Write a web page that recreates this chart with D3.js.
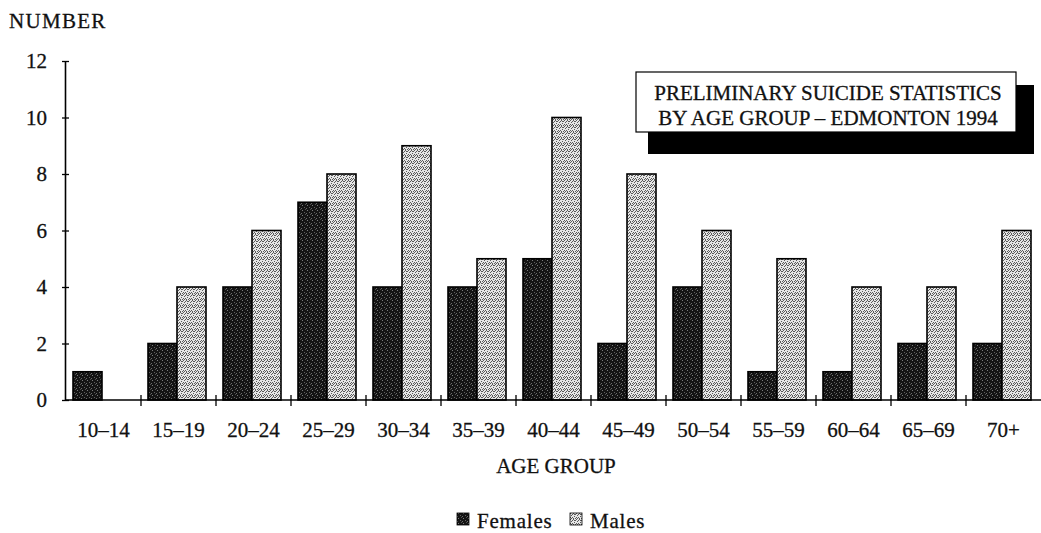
<!DOCTYPE html>
<html>
<head>
<meta charset="utf-8">
<script src="https://cdn.jsdelivr.net/npm/d3@7"></script>
<style>
  html, body { margin: 0; padding: 0; background: #fff; }
  svg { display: block; }
  text { font-family: "Liberation Serif", "Times New Roman", serif; fill: #111; stroke: #111; stroke-width: 0.3px; }
</style>
</head>
<body>
<svg id="chart" width="1041" height="533"></svg>
<script>
// ---- data ----
const categories = ["10–14","15–19","20–24","25–29","30–34","35–39","40–44","45–49","50–54","55–59","60–64","65–69","70+"];
const females = [1, 2, 4, 7, 4, 4, 5, 2, 4, 1, 1, 2, 2];
const males   = [0, 4, 6, 8, 9, 5, 10, 8, 6, 5, 4, 4, 6];
const seriesNames = ["Females", "Males"];
const yTicks = [0, 2, 4, 6, 8, 10, 12];
const titleLines = ["PRELIMINARY SUICIDE STATISTICS", "BY AGE GROUP – EDMONTON 1994"];
const yTitle = "NUMBER";
const xTitle = "AGE GROUP";

// ---- setup ----
const svg = d3.select("#chart");
const defs = svg.append("defs");

// stipple patterns imitating the halftone fills
const pf = defs.append("pattern").attr("id", "patF").attr("patternUnits", "userSpaceOnUse")
  .attr("width", 5).attr("height", 5);
pf.append("rect").attr("width", 5).attr("height", 5).attr("fill", "#141414");
[[1,0,"#7a7a7a"],[3,2,"#5e5e5e"],[0,3,"#6c6c6c"],[4,4,"#505050"]].forEach(([px,py,c]) =>
  pf.append("rect").attr("x", px).attr("y", py).attr("width", 1).attr("height", 1).attr("fill", c));

const pm = defs.append("pattern").attr("id", "patM").attr("patternUnits", "userSpaceOnUse")
  .attr("width", 6).attr("height", 6);
pm.append("rect").attr("width", 6).attr("height", 6).attr("fill", "#e6e6e6");
[[0,0],[3,0],[2,1],[5,1],[1,2],[4,3],[0,4],[2,4],[3,5],[5,5],[1,5],[4,1]].forEach(([px,py]) =>
  pm.append("rect").attr("x", px).attr("y", py).attr("width", 1).attr("height", 1).attr("fill", "#5a5a5a"));

const fills = { Females: "url(#patF)", Males: "url(#patM)" };

const x0 = d3.scaleBand().domain(categories).range([66, 1041]).padding(0);
const x1 = d3.scaleBand().domain(seriesNames).range([7, 65]).padding(0);
const y = d3.scaleLinear().domain([0, 12]).range([400, 61]);

// ---- bars ----
const rows = categories.map((c, i) => ({ cat: c, Females: females[i], Males: males[i] }));
const groups = svg.append("g").selectAll("g").data(rows).join("g")
  .attr("transform", d => `translate(${x0(d.cat)},0)`);
groups.selectAll("rect")
  .data(d => seriesNames.map(s => ({ s, v: d[s] })).filter(e => e.v > 0))
  .join("rect")
  .attr("x", e => x1(e.s))
  .attr("y", e => y(e.v))
  .attr("width", x1.bandwidth())
  .attr("height", e => y(0) - y(e.v))
  .attr("fill", e => fills[e.s])
  .attr("stroke", "#000")
  .attr("stroke-width", 1.6);

const fontCss = '"Liberation Serif", serif';

// ---- y axis ----
const yAxis = svg.append("g").attr("transform", "translate(65,0)")
  .call(d3.axisLeft(y).tickValues(yTicks).tickSize(3).tickPadding(15).tickSizeOuter(0));
yAxis.select(".domain").attr("stroke", "#000").attr("stroke-width", 1.6);
yAxis.selectAll(".tick line").attr("stroke", "#000").attr("stroke-width", 1.3);
yAxis.selectAll(".tick").append("line").attr("x1", 0).attr("x2", 4).attr("stroke", "#000").attr("stroke-width", 1.3);
yAxis.selectAll(".tick text").style("font-family", fontCss).style("font-size", "21px").attr("fill", "#111");

// ---- x axis ----
const xAxis = svg.append("g").attr("transform", "translate(0,400)")
  .call(d3.axisBottom(x0).tickSize(0).tickPadding(22).tickSizeOuter(0));
xAxis.select(".domain").attr("d", `M65,0H1041`).attr("stroke", "#000").attr("stroke-width", 1.6);
xAxis.selectAll(".tick text").style("font-family", fontCss).style("font-size", "21px").attr("fill", "#111");
svg.append("g").attr("transform", "translate(0,400)")
  .selectAll("line").data(categories.slice(1)).join("line")
  .attr("x1", d => x0(d)).attr("x2", d => x0(d))
  .attr("y1", -5).attr("y2", 6)
  .attr("stroke", "#000").attr("stroke-width", 1.3);

// ---- axis titles ----
svg.append("text").attr("x", 9).attr("y", 28).style("font-size", "21px").style("letter-spacing", "1.3px").text(yTitle);
svg.append("text").attr("x", 556).attr("y", 473).attr("text-anchor", "middle").style("font-size", "21px").text(xTitle);

// ---- title box ----
svg.append("rect").attr("x", 648).attr("y", 85).attr("width", 386).attr("height", 69).attr("fill", "#000");
svg.append("rect").attr("x", 636).attr("y", 72).attr("width", 380).attr("height", 60)
  .attr("fill", "#fff").attr("stroke", "#000").attr("stroke-width", 1.2);
svg.append("g").selectAll("text").data(titleLines).join("text")
  .attr("x", 828).attr("y", (d, i) => 100 + i * 25)
  .attr("text-anchor", "middle").style("font-size", "21px").text(d => d);

// ---- legend ----
const legendX = { Females: 457, Males: 570 };
const lg = svg.append("g").selectAll("g").data(seriesNames).join("g")
  .attr("transform", d => `translate(${legendX[d]},513)`);
lg.append("rect").attr("width", 12).attr("height", 12).attr("fill", d => fills[d]).attr("stroke", "#000").attr("stroke-width", 0.8);
lg.append("text").attr("x", 20).attr("y", 15).style("font-size", "21px").style("letter-spacing", "0.8px").text(d => d);
</script>
</body>
</html>
